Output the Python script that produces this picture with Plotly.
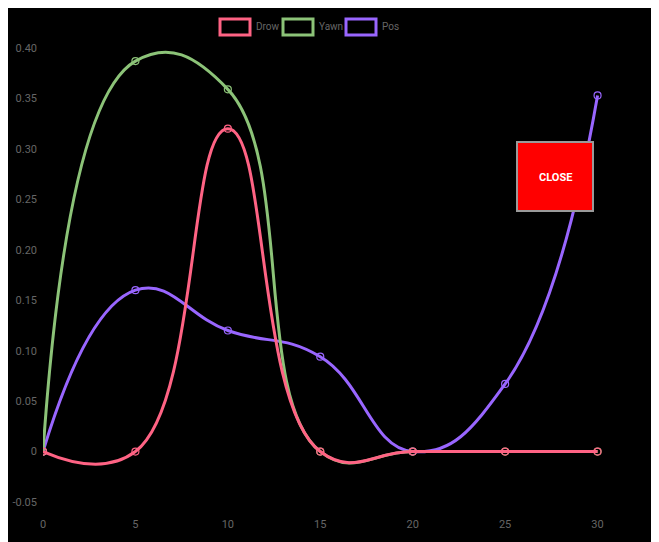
import plotly.graph_objects as go

# ---- data ----
x_vals = [0, 5, 10, 15, 20, 25, 30]
drow = [0, 0, 0.32, 0, 0, 0, 0]
yawn = [0, 0.387, 0.359, 0, 0, 0, 0]
pos = [0, 0.160, 0.120, 0.094, 0, 0.067, 0.353]
series_names = ["Drow", "Yawn", "Pos"]
series_colors = ["#ff6384", "#8cc378", "#9966ff"]
y_tickvals = [-0.05, 0, 0.05, 0.10, 0.15, 0.20, 0.25, 0.30, 0.35, 0.40]
y_ticktext = ["-0.05", "0", "0.05", "0.10", "0.15", "0.20", "0.25", "0.30", "0.35", "0.40"]
x_tickvals = [0, 5, 10, 15, 20, 25, 30]
x_ticktext = ["0", "5", "10", "15", "20", "25", "30"]
button_text = "CLOSE"

OFF = 8  # page body margin
W, H = 659, 542
# plot area in page pixels: x 43..653, y 48..502
ML, MT = 43 - OFF, 48 - OFF
MR = W - (653 - OFF)
MB = H - (502 - OFF)
PW, PH = W - ML - MR, H - MT - MB

def px(xp):
    return (xp - OFF - ML) / PW

def py(yp):
    return (H - MB - (yp - OFF)) / PH

FONT = "Roboto, Liberation Sans, sans-serif"

fig = go.Figure()
series = {"Drow": drow, "Yawn": yawn, "Pos": pos}
for name in ["Pos", "Yawn", "Drow"]:
    c = series_colors[series_names.index(name)]
    fig.add_trace(go.Scatter(
        x=x_vals, y=series[name], name=name, mode="lines+markers",
        line=dict(color=c, width=3, shape="spline", smoothing=1.3),
        marker=dict(symbol="circle-open", size=7, color=c, line=dict(width=1.2, color=c)),
        showlegend=False, hoverinfo="x+y+name",
    ))

shapes = []
annotations = []
# custom legend: outlined boxes with labels
legend_boxes = [(220, 250), (283, 313), (346, 376)]
legend_text_x = [254, 317, 380]
for (x0, x1), tx, nm, c in zip(legend_boxes, legend_text_x, series_names, series_colors):
    shapes.append(dict(type="rect", xref="paper", yref="paper",
                       x0=px(x0), x1=px(x1), y0=py(35), y1=py(19),
                       line=dict(color=c, width=3), fillcolor="black", layer="above"))
    annotations.append(dict(text=nm, xref="paper", yref="paper", x=px(tx), y=py(27),
                            xanchor="left", yanchor="middle", showarrow=False,
                            font=dict(family=FONT, size=10, color="#666666")))

# CLOSE button
shapes.append(dict(type="rect", xref="paper", yref="paper",
                   x0=px(517), x1=px(593), y0=py(211), y1=py(142),
                   line=dict(color="#9a9a9a", width=2), fillcolor="#ff0000", layer="above"))
annotations.append(dict(text="<b>" + button_text + "</b>", xref="paper", yref="paper",
                        x=px(555), y=py(177), xanchor="center", yanchor="middle",
                        showarrow=False, font=dict(family=FONT, size=11, color="white")))

fig.update_layout(
    width=W, height=H,
    margin=dict(l=ML, r=MR, t=MT, b=MB, pad=0),
    paper_bgcolor="black", plot_bgcolor="black",
    font=dict(family=FONT, size=11, color="#666666"),
    showlegend=False,
    shapes=shapes, annotations=annotations,
    xaxis=dict(range=[0, 33], tickvals=x_tickvals, ticktext=x_ticktext,
               showgrid=False, zeroline=False, showline=False, ticks="",
               ticklabelstandoff=14, tickfont=dict(family=FONT, size=11, color="#666666"),
               automargin=False, fixedrange=True),
    yaxis=dict(range=[-0.05, 0.40], tickvals=y_tickvals, ticktext=y_ticktext,
               showgrid=False, zeroline=False, showline=False, ticks="",
               ticklabelstandoff=5, tickfont=dict(family=FONT, size=11, color="#666666"),
               automargin=False, fixedrange=True),
)

fig.write_html("out.html")
